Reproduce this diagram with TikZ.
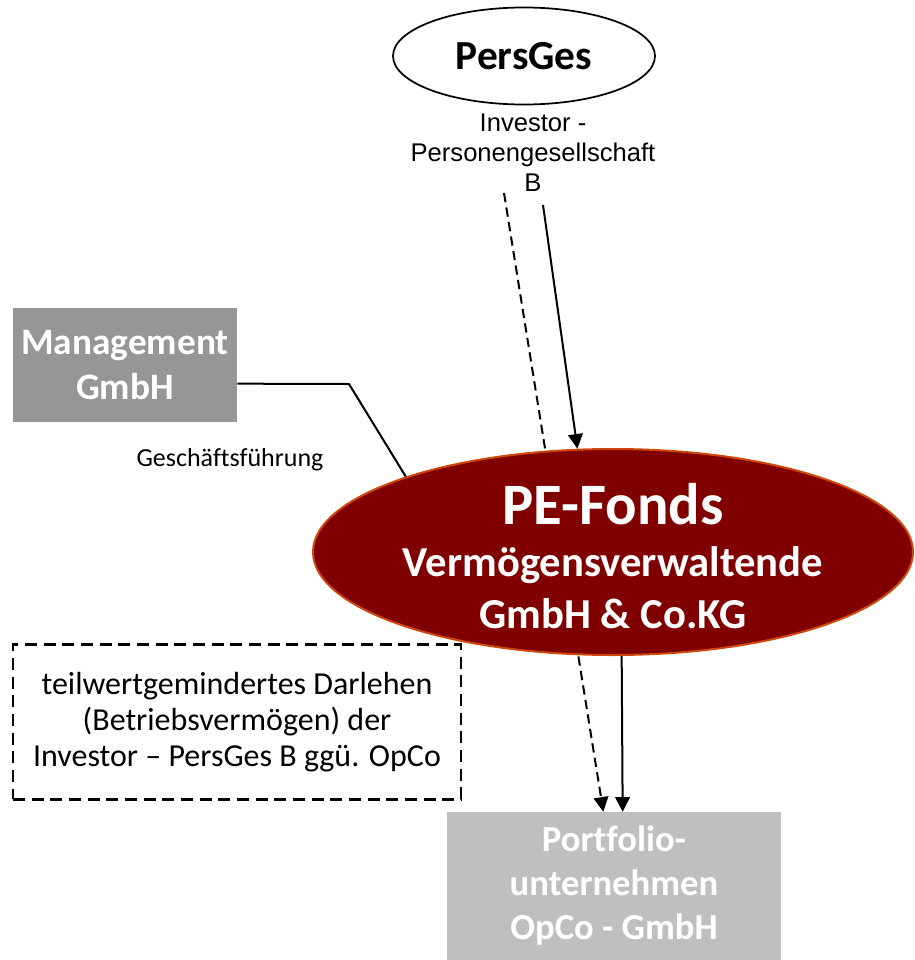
\documentclass[tikz,border=0pt]{standalone}
\usepackage{fontspec}
\setmainfont{Carlito}[Ligatures=CommonOff]
\newfontfamily\arialfont{Liberation Sans}
\usetikzlibrary{arrows.meta,shapes.geometric}
\definecolor{fondsred}{RGB}{128,0,0}
\definecolor{fondsline}{RGB}{206,72,12}
\definecolor{mgmtgray}{RGB}{150,150,150}
\definecolor{opcogray}{RGB}{191,191,191}

\begin{document}
\begin{tikzpicture}[x=0.75pt,y=-0.75pt,
  conn/.style={line width=1.5pt},
  arr/.style={conn, -{Triangle[width=11pt,length=11pt]}},
  loan/.style={dash pattern=on 7pt off 4pt},
  box/.style={rectangle, inner sep=0pt, text=white, align=center, font=\bfseries},
  lab/.style={align=center}]
\useasboundingbox (0,0) rectangle (914,960);
\coordinate (dB) at (504,193);
\coordinate (sB) at (543,205);
\coordinate (knick) at (349,384);
% boxes
\node[ellipse, draw, line width=1.3pt, minimum width=196.5pt, minimum height=72.75pt, inner sep=0pt,
  font=\fontsize{31}{37}\selectfont\bfseries] (persges) at (524,56) {PersGes};
\node[lab, font=\arialfont\fontsize{19.2}{22.5}\selectfont] (invlab) at (533,153)
  {Investor -\\Personengesellschaft\\B};
\node[box, fill=mgmtgray, minimum width=168pt, minimum height=85.5pt,
  font=\fontsize{28}{34}\selectfont\bfseries] (mgmt) at (125,365) {Management\\GmbH};
\node[lab, font=\fontsize{19.5}{23}\selectfont] (gf) at (230,460) {Geschäftsführung};
\node[box, fill=opcogray, minimum width=251pt, minimum height=111pt,
  font=\fontsize{27.5}{33}\selectfont\bfseries] (opco) at (614,886)
  {Portfolio-\\unternehmen\\OpCo - GmbH};
\node[lab, draw, line width=2pt, dash pattern=on 9pt off 5pt, minimum width=336pt, minimum height=116pt,
  font=\fontsize{24}{27}\selectfont] (darlehen) at (237,722)
  {teilwertgemindertes Darlehen\\(Betriebsvermögen) der\\Investor -- PersGes B ggü. OpCo};
% loan line runs behind the fund
\draw[arr, loan] (dB) -- ([xshift=-8pt]opco.north);
\node[ellipse, fill=fondsred, draw=fondsline, line width=1.5pt, minimum width=450pt, minimum height=154.5pt,
  inner sep=0pt,
  label={[text=white, align=center, yshift=-3pt, font=\fontsize{32}{39}\selectfont\bfseries]center:{{\fontsize{44}{50}\selectfont PE-Fonds}\\
    Vermögensverwaltende\\GmbH \& Co.KG}}] (fonds) at (613,552) {};
% connectors
\draw[arr] (sB) -- (fonds.109);
\draw[conn] ([yshift=-14pt]mgmt.east) -- (knick) -- (fonds.160);
\draw[arr] ([xshift=6.5pt]fonds.south) -- ([xshift=6.5pt]opco.north);
\end{tikzpicture}
\end{document}
